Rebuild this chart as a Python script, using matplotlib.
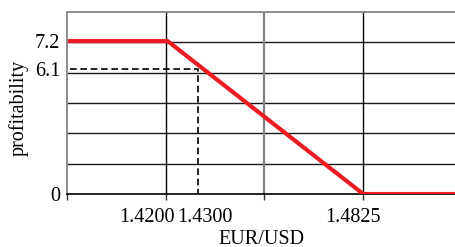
import numpy as np
import matplotlib
matplotlib.use("Agg")
import matplotlib.pyplot as plt
from matplotlib.transforms import blended_transform_factory

matplotlib.rcParams['font.family'] = 'Liberation Serif'
size_labels = 14.5

'''
Data (schematic axis: positions read off the picture)
'''
rate_labels = ["1.4200", "1.4300", "1.4825"]
rate_x = [1.02, 1.33, 3.0]          # where each rate sits on the x axis
profit_labels = ["0", "6.1", "7.2"]
profit_y = [0.0, 4.12, 5.04]        # where each profit level sits on the y axis
x_start, x_end = 0.01, 3.94

# profit curve: flat at 7.2, falls to 0 at 1.4825, flat afterwards
line_x = [x_start, rate_x[0], rate_x[2], x_end]
line_y = [profit_y[2], profit_y[2], profit_y[0], profit_y[0]]

# dashed reading at 1.4300 -> 6.1
dash_x = [0.03, rate_x[1], rate_x[1]]
dash_y = [profit_y[1], profit_y[1], profit_y[0]]

rate_label_x = [0.815, 1.40, 2.90]

fig = plt.figure(figsize=(4.56, 2.47), dpi=100)
ax = fig.add_axes([67/456, 1-194/247, 1-67/456, (194-12)/247])
ax.set_xlim(0, 3.94)
ax.set_ylim(0, 6)

# grid
for yy in range(1, 6):
    ax.axhline(yy, color="#1a1a1a", lw=1.0, zorder=1)
ax.axvline(1, color="k", lw=1.0, zorder=1)
ax.axvline(2, color="#808080", lw=1.6, zorder=1)
ax.axvline(3, color="k", lw=1.0, zorder=1)

ax.plot(dash_x, dash_y, color="k", lw=1.2, dashes=(4, 2.2), zorder=2)
ax.plot(line_x, line_y, color="#ec1c24", lw=3.0, solid_capstyle="butt", zorder=3)

for s in ["top", "left"]:
    ax.spines[s].set_color("#8c8c8c")
    ax.spines[s].set_linewidth(1.4)
ax.spines["right"].set_visible(False)
ax.spines["bottom"].set_color("k")
ax.spines["bottom"].set_linewidth(1.2)

ax.set_xticks([0, 1, 2, 3])
ax.set_xticklabels([])
ax.tick_params(axis="x", length=4, width=1.0, color="#333333")
ax.set_yticks(profit_y)
ax.set_yticklabels(profit_labels)
ax.tick_params(axis="y", length=0, pad=5, labelsize=size_labels)

trans = blended_transform_factory(ax.transData, fig.transFigure)
for xx, lab in zip(rate_label_x, rate_labels):
    ax.text(xx, 1-217/247, lab, transform=trans, ha="center", va="center",
            size=size_labels, clip_on=False)

fig.text(261/456, 1-239/247, "EUR/USD", ha="center", va="center", size=size_labels)
fig.text(19/456, 1-108/247, "profitability", ha="center", va="center",
         rotation=90, size=size_labels)

fig.savefig("out.png", dpi=100)
